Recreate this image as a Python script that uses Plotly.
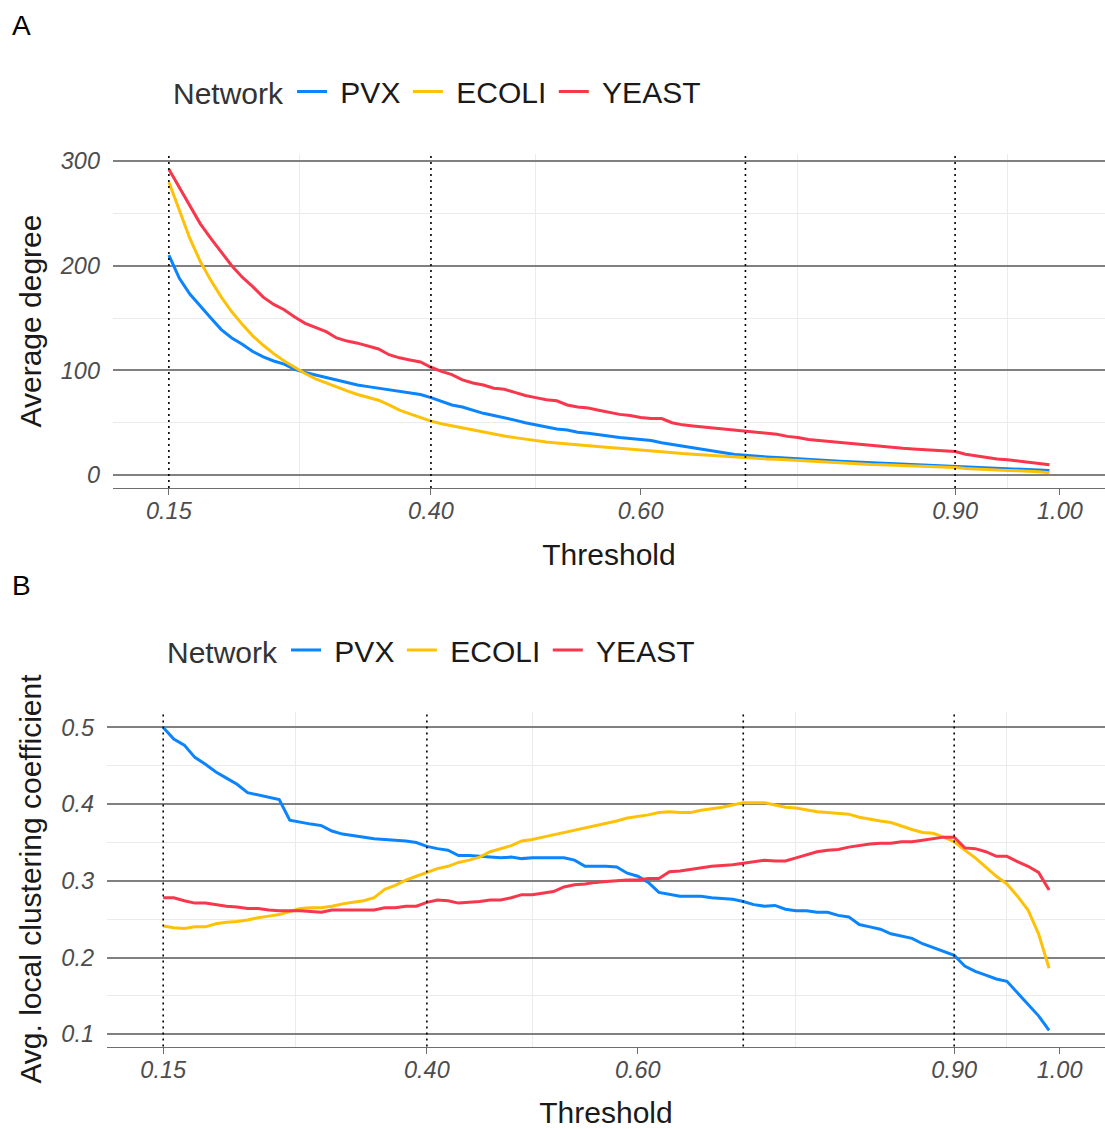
import plotly.graph_objects as go

# Thresholds 0.15 .. 0.99 in steps of 0.01
threshold = [round(0.15 + 0.01 * i, 2) for i in range(85)]

# Average degree per network
deg_pvx = [210, 188, 173, 161, 150, 139, 131, 125, 118, 113, 109, 106, 101, 98, 95.5, 93, 90.5, 88, 86,
           84.5, 83, 81.5, 80.5, 79, 77, 74, 70.6, 67, 65, 62, 59, 57, 55, 52.5, 50, 48, 46, 44, 43,
           41, 40, 38.6, 37, 36, 35, 34, 33, 31, 29.4, 27.5, 26, 24, 22.5, 21, 19.6, 19, 18, 17.4,
           16.8, 16.1, 15.5, 14.9, 14.2, 13.6, 13.3, 12.7, 12.3, 11.7, 11.4, 11, 10.4, 10.1, 9.8, 9.2,
           8.9, 8.5, 7.9, 7.6, 7.3, 6.6, 6.3, 6, 5.4, 5.1, 4.4]
deg_ecoli = [280, 252, 226, 204, 186, 170, 156, 144, 133, 124, 116, 109, 103, 97, 92, 88, 84, 80.5, 77,
             74, 71.5, 67, 62, 58.5, 55, 51.6, 49, 47, 44.6, 42.7, 40.8, 39, 37.3, 35.8, 34.2, 33,
             31.6, 30.7, 29.7, 28.8, 28.2, 27.2, 26.3, 25.6, 24.7, 23.7, 22.8, 21.8, 21.2, 20.6, 20,
             19.3, 18.7, 18, 17.4, 16.8, 16.1, 15.5, 15.2, 14.6, 13.9, 13.3, 12.7, 12, 11.7, 11, 10.8,
             10.1, 9.8, 9.5, 9.2, 8.9, 8.5, 8.2, 7.9, 7.3, 6.3, 5.7, 5.4, 5.1, 4.4, 4.1, 3.8, 3.2, 2.2]
deg_yeast = [292, 275, 257, 240, 226, 213, 200, 189, 180, 170, 163, 158, 151, 145, 141, 137, 131, 128,
             126, 123, 120.5, 115, 112, 110, 108, 103, 99, 96, 91, 88, 86, 83, 82, 79, 76, 74, 72, 71,
             67, 65, 64, 62, 60, 58, 57, 55, 54, 54, 50, 48, 47, 46, 45, 44, 43, 42.5, 41, 40, 39, 37,
             36, 34, 33, 32, 31, 30, 29, 28, 27, 26.5, 25.6, 25, 24.4, 23.7, 23, 22.5, 20, 18.4, 17,
             15.5, 14.6, 13.3, 12.3, 11, 9.8]

# Average local clustering coefficient per network
clu_pvx = [0.500, 0.485, 0.477, 0.461, 0.452, 0.442, 0.434, 0.426, 0.415, 0.412, 0.409, 0.406, 0.379,
           0.376, 0.374, 0.372, 0.365, 0.361, 0.359, 0.357, 0.355, 0.354, 0.353, 0.352, 0.350, 0.345,
           0.342, 0.340, 0.333, 0.333, 0.332, 0.331, 0.330, 0.331, 0.329, 0.330, 0.330, 0.330, 0.330,
           0.327, 0.319, 0.319, 0.319, 0.318, 0.310, 0.306, 0.298, 0.285, 0.282, 0.280, 0.280, 0.280,
           0.278, 0.277, 0.276, 0.273, 0.269, 0.267, 0.268, 0.263, 0.261, 0.261, 0.259, 0.259, 0.255,
           0.253, 0.243, 0.240, 0.237, 0.231, 0.228, 0.225, 0.218, 0.213, 0.208, 0.203, 0.189, 0.182,
           0.177, 0.172, 0.169, 0.154, 0.138, 0.124, 0.105]
clu_ecoli = [0.241, 0.239, 0.238, 0.240, 0.240, 0.244, 0.246, 0.247, 0.249, 0.252, 0.254, 0.256, 0.260,
             0.264, 0.265, 0.265, 0.267, 0.270, 0.272, 0.274, 0.278, 0.289, 0.294, 0.301, 0.306, 0.311,
             0.316, 0.319, 0.324, 0.327, 0.331, 0.338, 0.342, 0.346, 0.352, 0.354, 0.357, 0.360, 0.364,
             0.366, 0.369, 0.372, 0.375, 0.378, 0.382, 0.384, 0.386, 0.389, 0.390, 0.389, 0.389, 0.392,
             0.394, 0.396, 0.399, 0.402, 0.402, 0.402, 0.399, 0.396, 0.395, 0.392, 0.390, 0.389, 0.388,
             0.387, 0.383, 0.380, 0.378, 0.376, 0.371, 0.367, 0.363, 0.362, 0.357, 0.351, 0.340, 0.330,
             0.318, 0.306, 0.296, 0.280, 0.262, 0.231, 0.186]
clu_yeast = [0.278, 0.278, 0.274, 0.271, 0.271, 0.269, 0.267, 0.266, 0.264, 0.264, 0.262, 0.261, 0.261,
             0.261, 0.260, 0.259, 0.262, 0.262, 0.262, 0.262, 0.262, 0.265, 0.265, 0.267, 0.267, 0.272,
             0.275, 0.274, 0.271, 0.272, 0.273, 0.275, 0.275, 0.278, 0.282, 0.282, 0.284, 0.286, 0.292,
             0.295, 0.296, 0.298, 0.299, 0.300, 0.301, 0.301, 0.303, 0.303, 0.312, 0.313, 0.315, 0.317,
             0.319, 0.320, 0.321, 0.323, 0.325, 0.327, 0.326, 0.326, 0.330, 0.334, 0.338, 0.340, 0.341,
             0.344, 0.346, 0.348, 0.349, 0.349, 0.351, 0.351, 0.353, 0.355, 0.357, 0.357, 0.343, 0.342,
             0.338, 0.332, 0.332, 0.325, 0.319, 0.311, 0.288]

networks = ["PVX", "ECOLI", "YEAST"]
colors = {"PVX": "#0A84FF", "ECOLI": "#FFC107", "YEAST": "#F8374C"}

x_ticks = [0.15, 0.40, 0.60, 0.90, 1.00]
x_minor = [0.275, 0.50, 0.75, 0.95]
x_dotted = [0.15, 0.40, 0.70, 0.90]

W, H = 1105, 1129
FONT = "Liberation Sans, Arial, sans-serif"
NB = "\u00a0"
HAIR = "\u200a"


def px_x(p):
    return p / W


def px_y(p):
    return 1 - p / H


def legend_label(name):
    # padding around the entry text so keys and labels breathe
    return NB + name + HAIR


fig = go.Figure()

for name, ys in zip(networks, [deg_pvx, deg_ecoli, deg_yeast]):
    fig.add_trace(go.Scatter(x=threshold, y=ys, mode="lines", name=legend_label(name),
                             line=dict(color=colors[name], width=3),
                             xaxis="x", yaxis="y", legend="legend"))
for name, ys in zip(networks, [clu_pvx, clu_ecoli, clu_yeast]):
    fig.add_trace(go.Scatter(x=threshold, y=ys, mode="lines", name=legend_label(name),
                             line=dict(color=colors[name], width=3),
                             xaxis="x2", yaxis="y2", legend="legend2"))

tick_font = dict(family=FONT, size=23.5, color="#4d4d4d", style="italic")
title_font = dict(family=FONT, size=30, color="#1a1a1a")

xaxis_common = dict(
    range=[0.0967, 1.043], tickvals=x_ticks, ticktext=[f"{v:.2f}" for v in x_ticks],
    showgrid=False, zeroline=False, showline=True, linecolor="#6e6e6e", linewidth=1.4,
    ticks="outside", ticklen=6, tickcolor="#6e6e6e", tickwidth=1.4,
    tickfont=tick_font, ticklabelstandoff=-4,
    minor=dict(tickvals=x_minor, showgrid=True, gridcolor="#ebebeb", gridwidth=1.3, ticks=""),
    title=dict(text="Threshold", font=title_font, standoff=20),
)
yaxis_common = dict(
    showgrid=True, gridcolor="#808080", gridwidth=1.7, zeroline=False, showline=False,
    ticks="", tickfont=tick_font, ticklabelstandoff=12,
)

legend_common = dict(
    orientation="h", xanchor="left", yanchor="middle",
    font=dict(family=FONT, size=30, color="#1a1a1a"), bgcolor="rgba(0,0,0,0)", itemwidth=30,
)
legend_title = dict(text="Network", side="left", font=dict(family=FONT, size=30, color="#333333"))

fig.update_layout(
    width=W, height=H, margin=dict(l=0, r=0, t=0, b=0),
    paper_bgcolor="white", plot_bgcolor="white",
    font=dict(family=FONT),
    xaxis=dict(domain=[px_x(113), 1], anchor="y", **xaxis_common),
    yaxis=dict(domain=[px_y(485), px_y(149)], anchor="x", range=[-12.3, 306.6],
               tickvals=[0, 100, 200, 300], ticktext=["0", "100", "200", "300"],
               minor=dict(tickvals=[50, 150, 250], showgrid=True, gridcolor="#ebebeb", gridwidth=1.3),
               title=dict(text="Average degree", font=title_font, standoff=9),
               **yaxis_common),
    xaxis2=dict(domain=[px_x(107), 1], anchor="y2", **xaxis_common),
    yaxis2=dict(domain=[px_y(1047), px_y(710)], anchor="x2", range=[0.084, 0.5207],
                tickvals=[0.1, 0.2, 0.3, 0.4, 0.5], ticktext=["0.1", "0.2", "0.3", "0.4", "0.5"],
                minor=dict(tickvals=[0.15, 0.25, 0.35, 0.45], showgrid=True, gridcolor="#ebebeb",
                           gridwidth=1.3),
                title=dict(text="Avg. local clustering coefficient", font=title_font, standoff=10),
                **yaxis_common),
    legend=dict(x=px_x(171), y=px_y(86), title=legend_title, **legend_common),
    legend2=dict(x=px_x(165), y=px_y(648), title=legend_title, **legend_common),
    showlegend=True,
)

# Dotted reference lines at selected thresholds
for xr, yr in (("x", "y"), ("x2", "y2")):
    for xv in x_dotted:
        fig.add_shape(type="line", xref=xr, yref=f"{yr} domain", x0=xv, x1=xv, y0=0, y1=1,
                      line=dict(color="black", width=1.6, dash="2px,4px"), layer="above")

# Panel letters
fig.add_annotation(text="A", xref="paper", yref="paper", x=px_x(10), y=px_y(20),
                   xanchor="left", yanchor="middle", showarrow=False,
                   font=dict(family=FONT, size=28, color="black"))
fig.add_annotation(text="B", xref="paper", yref="paper", x=px_x(10), y=px_y(583),
                   xanchor="left", yanchor="middle", showarrow=False,
                   font=dict(family=FONT, size=28, color="black"))

fig.write_html("out.html")
